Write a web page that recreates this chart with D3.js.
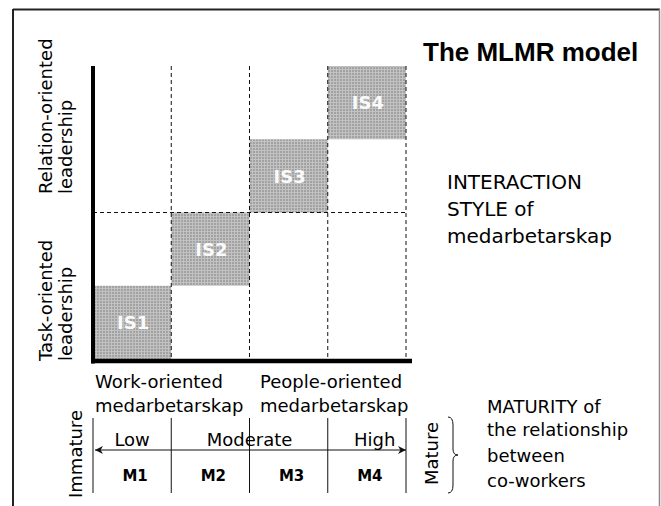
<!DOCTYPE html>
<html>
<head>
<meta charset="utf-8">
<script src="https://cdn.jsdelivr.net/npm/d3@7"></script>
<style>
  body { margin: 0; background: #fff; }
  text { font-family: "DejaVu Sans", sans-serif; fill: #000; }
</style>
</head>
<body>
<div class="interactive-wrapper"></div>
<script>
// interaction styles, one per maturity column, stepping up one level each
const styles = ['IS1', 'IS2', 'IS3', 'IS4']
const styleLevel = [0, 1, 2, 3]
const maturity = ['M1', 'M2', 'M3', 'M4']
const degree = ['Low', 'Moderate', 'High']
const degreeAt = [0.5, 2, 3.6]
const leadership = [['Relation-oriented', 'leadership'], ['Task-oriented', 'leadership']]
const medarb = [['Work-oriented', 'medarbetarskap'], ['People-oriented', 'medarbetarskap']]
const styleNote = ['INTERACTION', 'STYLE of', 'medarbetarskap']
const maturityNote = ['MATURITY of', 'the relationship', 'between', 'co-workers']

const width = 661, height = 506

const x = d3.scaleLinear().domain([0, 4]).range([93, 406])
const y = d3.scaleLinear().domain([0, 4]).range([359, 66])

const svg = d3.select('.interactive-wrapper')
.append('svg')
.attr('width', width)
.attr('height', height)

const defs = svg.append('defs')

const pat = defs.append('pattern')
.attr('id', 'dots')
.attr('width', 3)
.attr('height', 3)
.attr('patternUnits', 'userSpaceOnUse')
pat.append('rect').attr('width', 3).attr('height', 3).attr('fill', '#a2a2a2')
pat.append('rect').attr('width', 3).attr('height', 1).attr('fill', '#c2c2c2')
pat.append('rect').attr('width', 1).attr('height', 3).attr('fill', '#c2c2c2')

defs.append('marker')
.attr('id', 'arrow')
.attr('viewBox', '0 0 10 10')
.attr('refX', 10)
.attr('refY', 5)
.attr('markerWidth', 11)
.attr('markerHeight', 8)
.attr('markerUnits', 'userSpaceOnUse')
.attr('orient', 'auto-start-reverse')
.append('path')
.attr('d', 'M0,0 L10,5 L0,10 L3,5 Z')
.attr('fill', '#111')

// frame
svg.append('line').attr('x1', 13).attr('x2', 660).attr('y1', 9.5).attr('y2', 9.5)
.style('stroke', '#222').style('stroke-width', 2)
svg.append('line').attr('x1', 13).attr('x2', 13).attr('y1', 9).attr('y2', height)
.style('stroke', '#222').style('stroke-width', 2)
svg.append('line').attr('x1', 659.5).attr('x2', 659.5).attr('y1', 9).attr('y2', height)
.style('stroke', '#888').style('stroke-width', 1.5)

// boxes
svg.append('g')
.selectAll('rect')
.data(styles)
.enter()
.append('rect')
.attr('x', (d, i) => x(i))
.attr('y', (d, i) => y(styleLevel[i] + 1))
.attr('width', (d, i) => x(i + 1) - x(i))
.attr('height', (d, i) => y(styleLevel[i]) - y(styleLevel[i] + 1))
.style('fill', 'url(#dots)')

svg.append('g')
.selectAll('text')
.data(styles)
.enter()
.append('text')
.attr('x', (d, i) => (x(i) + x(i + 1)) / 2 + 1)
.attr('y', (d, i) => (y(styleLevel[i]) + y(styleLevel[i] + 1)) / 2)
.attr('dy', '0.37em')
.attr('text-anchor', 'middle')
.style('font-weight', 'bold')
.style('font-size', '18px')
.style('fill', '#fafafa')
.text(d => d)

// dashed grid
svg.append('g')
.selectAll('line')
.data([1, 2, 3, 4])
.enter()
.append('line')
.attr('x1', d => x(d)).attr('x2', d => x(d))
.attr('y1', y(4)).attr('y2', y(0))
.style('stroke', '#111')
.style('stroke-dasharray', '4,3')

svg.append('line')
.attr('x1', x(0)).attr('x2', x(4))
.attr('y1', y(2)).attr('y2', y(2))
.style('stroke', '#111')
.style('stroke-dasharray', '4,3')

// thick axes
svg.append('line').attr('x1', x(0)).attr('x2', x(0)).attr('y1', y(4)).attr('y2', y(0) + 4.5)
.style('stroke', '#000').style('stroke-width', 4)
svg.append('line').attr('x1', x(0) - 2).attr('x2', x(4) + 6).attr('y1', y(0) + 2).attr('y2', y(0) + 2)
.style('stroke', '#000').style('stroke-width', 4.5)

// leadership labels (rotated)
leadership.forEach((pair, j) => {
  const startY = j === 0 ? 194 : 361
  pair.forEach((t, k) => {
    svg.append('text')
    .attr('transform', `translate(${52 + k * 20},${startY}) rotate(-90)`)
    .style('font-size', '18px')
    .text(t)
  })
})

// medarbetarskap labels
medarb.forEach((pair, j) => {
  pair.forEach((t, k) => {
    svg.append('text')
    .attr('x', j === 0 ? 95 : 260)
    .attr('y', 388 + k * 24)
    .style('font-size', '18px')
    .text(t)
  })
})

// maturity scale
svg.append('g')
.selectAll('line')
.data([0, 1, 2, 3, 4])
.enter()
.append('line')
.attr('x1', d => x(d)).attr('x2', d => x(d))
.attr('y1', 418).attr('y2', 493)
.style('stroke', '#111')

svg.append('line')
.attr('x1', x(0) + 2).attr('x2', x(4))
.attr('y1', 450).attr('y2', 450)
.style('stroke', '#111')
.attr('marker-start', 'url(#arrow)')
.attr('marker-end', 'url(#arrow)')

svg.append('g')
.selectAll('text')
.data(degree)
.enter()
.append('text')
.attr('x', (d, i) => x(degreeAt[i]))
.attr('y', 446)
.attr('text-anchor', 'middle')
.style('font-size', '18px')
.text(d => d)

svg.append('g')
.selectAll('text')
.data(maturity)
.enter()
.append('text')
.attr('x', (d, i) => (x(i) + x(i + 1)) / 2 + 3)
.attr('y', 481)
.attr('text-anchor', 'middle')
.style('font-weight', 'bold')
.style('font-size', '15px')
.text(d => d)

svg.append('text')
.attr('transform', 'translate(82,498) rotate(-90)')
.style('font-size', '18px')
.text('Immature')

svg.append('text')
.attr('transform', 'translate(438,485) rotate(-90)')
.style('font-size', '18px')
.text('Mature')

svg.append('path')
.attr('d', 'M448,417 Q453,417 453,425 L453,449 Q453,455 458,455 Q453,455 453,461 L453,485 Q453,493 448,493')
.style('fill', 'none')
.style('stroke', '#111')

// right-hand notes
svg.append('text')
.attr('x', 423)
.attr('y', 61)
.style('font-family', '"Liberation Sans", Arial, sans-serif')
.style('font-weight', 'bold')
.style('font-size', '26px')
.text('The MLMR model')

svg.append('g')
.selectAll('text')
.data(styleNote)
.enter()
.append('text')
.attr('x', 447)
.attr('y', (d, i) => 189 + i * 27)
.style('font-size', '20px')
.text(d => d)

const noteY = [413, 436, 462, 487]
svg.append('g')
.selectAll('text')
.data(maturityNote)
.enter()
.append('text')
.attr('x', 487)
.attr('y', (d, i) => noteY[i])
.style('font-size', '18px')
.text(d => d)
</script>
</body>
</html>
